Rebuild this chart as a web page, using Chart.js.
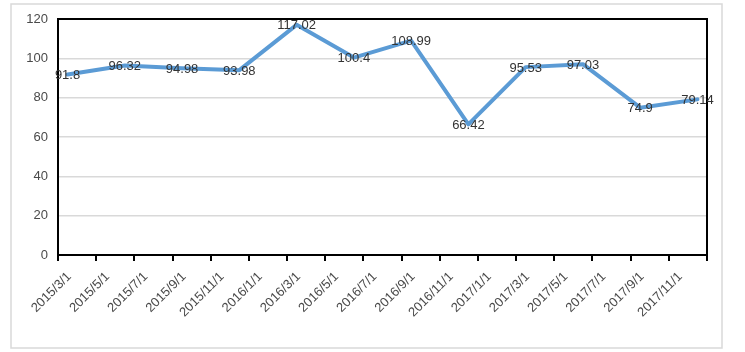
<!DOCTYPE html>
<html>
<head>
<meta charset="utf-8">
<script src="https://cdn.jsdelivr.net/npm/chart.js@4/dist/chart.umd.min.js"></script>
<style>
  body { margin: 0; background: #fff; }
</style>
</head>
<body>
<canvas id="myChart" width="745" height="352"></canvas>
<script>
// tick labels on the date axis (every 2 months)
const tickLabels = ["2015/3/1", "2015/5/1", "2015/7/1", "2015/9/1", "2015/11/1",
  "2016/1/1", "2016/3/1", "2016/5/1", "2016/7/1", "2016/9/1", "2016/11/1",
  "2017/1/1", "2017/3/1", "2017/5/1", "2017/7/1", "2017/9/1", "2017/11/1"]
// dates of the points (quarterly)
const pointDates = ["2015/3/1", "2015/6/1", "2015/9/1", "2015/12/1",
  "2016/3/1", "2016/6/1", "2016/9/1", "2016/12/1",
  "2017/3/1", "2017/6/1", "2017/9/1", "2017/12/1"]
const values = [91.8, 96.32, 94.98, 93.98, 117.02, 100.4, 108.99, 66.42, 95.53, 97.03, 74.9, 79.14]
const yTicks = [0, 20, 40, 60, 80, 100, 120]

// months since 2015/3
function monthIndex(s) {
  const p = s.split("/")
  return (parseInt(p[0]) - 2015) * 12 + (parseInt(p[1]) - 3)
}
const monthsTotal = 34
const fontFam = "'Liberation Sans', Arial, sans-serif"

const labelPlugin = {
  id: "valueLabels",
  afterDatasetsDraw(chart) {
    const ctx = chart.ctx
    const meta = chart.getDatasetMeta(0)
    ctx.save()
    ctx.font = "13px " + fontFam
    ctx.fillStyle = "#333333"
    ctx.textAlign = "center"
    ctx.textBaseline = "middle"
    meta.data.forEach(function (pt, i) {
      ctx.fillText(String(values[i]), pt.x, pt.y + 1)
    })
    ctx.restore()
  }
}

const framePlugin = {
  id: "frame",
  beforeDraw(chart) {
    const ctx = chart.ctx
    ctx.save()
    ctx.strokeStyle = "#d9d9d9"
    ctx.lineWidth = 1.5
    ctx.strokeRect(11, 4, 711, 344)
    ctx.restore()
  },
  beforeDatasetsDraw(chart) {
    const a = chart.chartArea
    const ctx = chart.ctx
    ctx.save()
    ctx.strokeStyle = "#000"
    ctx.lineWidth = 2
    ctx.strokeRect(a.left, a.top, a.right - a.left, a.bottom - a.top)
    ctx.restore()
  }
}

const myChart = new Chart("myChart", {
  type: "line",
  data: {
    datasets: [{
      data: pointDates.map((d, i) => ({ x: monthIndex(d) + 0.5, y: values[i] })),
      borderColor: "#5b9bd5",
      backgroundColor: "#5b9bd5",
      borderWidth: 4,
      pointRadius: 0,
      lineTension: 0,
      borderJoinStyle: "round",
      borderCapStyle: "round"
    }]
  },
  options: {
    responsive: false,
    animation: false,
    devicePixelRatio: 1,
    layout: { padding: { left: 0, top: 19, right: 38, bottom: 0 } },
    plugins: { legend: { display: false }, tooltip: { enabled: false } },
    scales: {
      x: {
        type: "linear",
        position: "bottom",
        min: 0,
        max: monthsTotal,
        weight: 0,
        afterBuildTicks(scale) {
          scale.ticks = tickLabels.map(l => ({ value: monthIndex(l) })).concat([{ value: monthsTotal }])
        },
        afterFit(scale) { scale.height = 6 },
        ticks: { display: false },
        border: { display: false },
        grid: { drawOnChartArea: false, drawTicks: true, tickLength: 6, color: "#000", lineWidth: 2 }
      },
      xl: {
        type: "linear",
        position: "bottom",
        min: 0,
        max: monthsTotal,
        weight: 1,
        afterBuildTicks(scale) {
          scale.ticks = tickLabels.map(l => ({ value: monthIndex(l) + 0.6 }))
        },
        afterFit(scale) { scale.height = 91 },
        ticks: {
          autoSkip: false,
          minRotation: 45,
          maxRotation: 45,
          padding: 0,
          color: "#4a4a4a",
          font: { family: fontFam, size: 13 },
          callback: (v, i) => tickLabels[i]
        },
        border: { display: false },
        grid: { display: false }
      },
      y: {
        min: 0,
        max: 120,
        afterBuildTicks(scale) {
          scale.ticks = yTicks.map(v => ({ value: v }))
        },
        afterFit(scale) { scale.width = 58 },
        ticks: {
          padding: 10,
          color: "#4a4a4a",
          font: { family: fontFam, size: 13 }
        },
        border: { display: false },
        grid: { color: "#d9d9d9", lineWidth: 1.5, drawTicks: false }
      }
    }
  },
  plugins: [framePlugin, labelPlugin]
})
</script>
</body>
</html>
